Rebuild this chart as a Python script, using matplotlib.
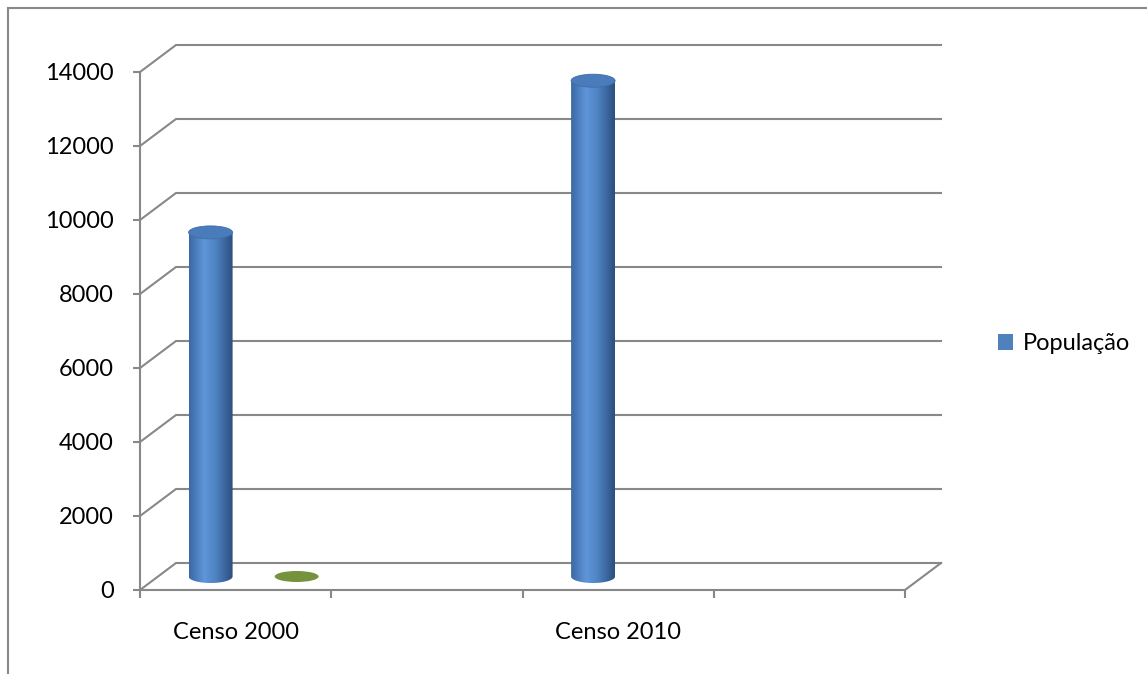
import numpy as np
import matplotlib
matplotlib.use("Agg")
import matplotlib.pyplot as plt
from matplotlib.patches import Ellipse, Polygon, Rectangle, Patch
from matplotlib.colors import LinearSegmentedColormap

# data
categorias = ["Censo 2000", "", "Censo 2010", ""]
populacao = [9300, None, 13400, None]
serie_2 = [0, None, None, None]          # green series, not shown in legend
y_ticks = [0, 2000, 4000, 6000, 8000, 10000, 12000, 14000]

W, H = 1147, 674
plt.rcParams['font.family'] = ['Lato', 'DejaVu Sans']

fig = plt.figure(figsize=(W / 100, H / 100), dpi=100)

# front plane of the 3D box, in pixels
x0_px, x1_px = 140, 905
y0_px, y1_px = 590, 72
ax = fig.add_axes([x0_px / W, (H - y0_px) / H, (x1_px - x0_px) / W, (y0_px - y1_px) / H])
n_cat = len(categorias)
ax.set_xlim(0, n_cat)
ax.set_ylim(0, 14000)

px_x = (x1_px - x0_px) / n_cat       # pixels per category
px_y = (y0_px - y1_px) / 14000       # pixels per unit
dx = 36 / px_x                       # depth offset, category units
dy = 27 / px_y                       # depth offset, value units

grid = '#888888'
lw = 1.5
fs = 17

for s in ['top', 'right']:
    ax.spines[s].set_visible(False)
for s in ['left', 'bottom']:
    ax.spines[s].set_color(grid)
    ax.spines[s].set_linewidth(lw)

ax.set_yticks(y_ticks)
ax.set_yticklabels([str(v) for v in y_ticks])
ax.tick_params(axis='y', length=5, width=lw, color=grid, pad=14, labelsize=fs)

ax.set_xticks(range(n_cat + 1))
ax.set_xticklabels([])
ax.set_xticks([i + 0.5 for i in range(n_cat)], minor=True)
ax.set_xticklabels(categorias, minor=True)
ax.tick_params(axis='x', which='major', length=6, width=lw, color=grid)
ax.tick_params(axis='x', which='minor', length=0, pad=23, labelsize=fs)

# back wall gridlines + side wall diagonals
for v in y_ticks:
    ax.plot([0, dx, n_cat + dx], [v, v + dy, v + dy], color=grid, lw=lw,
            clip_on=False, solid_joinstyle='miter', zorder=1)
ax.plot([n_cat + dx, n_cat], [dy, 0], color=grid, lw=lw, clip_on=False, zorder=1)

# cylinders
cmap = LinearSegmentedColormap.from_list(
    'cyl', [(0, '#3A68A4'), (0.35, '#5F96D9'), (0.6, '#4F84C4'), (1, '#2C4E7E')])
grad = np.linspace(0, 1, 256).reshape(1, -1)

bar_w = 0.23
offset = 0.225
ell_h = 13 / px_y


def cylinder(cx, bottom, top):
    t = np.linspace(np.pi, 2 * np.pi, 60)
    xs = cx + bar_w / 2 * np.cos(t)
    ys = bottom + ell_h / 2 * np.sin(t)
    pts = [(cx - bar_w / 2, top)] + list(zip(xs, ys)) + [(cx + bar_w / 2, top)]
    body = Polygon(pts, closed=True, facecolor='none', edgecolor='none')
    ax.add_patch(body)
    im = ax.imshow(grad, cmap=cmap, aspect='auto', zorder=3,
                   extent=[cx - bar_w / 2, cx + bar_w / 2, bottom - ell_h, top])
    im.set_clip_path(body)
    ax.add_patch(Ellipse((cx, top), bar_w, ell_h, facecolor='#4A7CBC',
                         edgecolor='#3F6DA8', lw=0.6, zorder=4))


for i, v in enumerate(populacao):
    if v is None:
        continue
    cx = i + 0.5 - offset + dx / 2
    cylinder(cx, dy / 2, v + dy / 2)

for i, v in enumerate(serie_2):
    if v is None:
        continue
    cx = i + 0.5 + offset + dx / 2
    ax.add_patch(Ellipse((cx, v + dy / 2), bar_w, 11 / px_y, facecolor='#76923C',
                         edgecolor='none', zorder=4))

ax.set_xlim(0, n_cat)
ax.set_ylim(0, 14000)

fig.legend(handles=[Patch(facecolor='#4F81BD', label='População')],
           loc='center left', bbox_to_anchor=(998 / W, 1 - 344 / H),
           frameon=False, fontsize=fs, handlelength=0.65, handleheight=0.65,
           handletextpad=0.4, borderpad=0, borderaxespad=0)

# outer chart border
fig.patches.append(Rectangle((8 / W, -0.1), 1.2, 1.1 - 8 / H, transform=fig.transFigure,
                             facecolor='none', edgecolor=grid, lw=lw))

fig.savefig('out.png', dpi=100)
